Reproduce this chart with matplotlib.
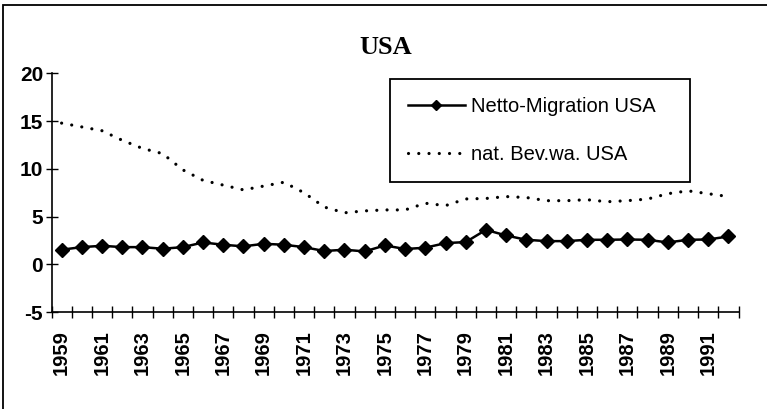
import matplotlib

matplotlib.use("Agg")

import matplotlib.pyplot as plt
import numpy as np
from matplotlib.patches import Rectangle

years = list(range(1959, 1993))

# Netto-Migration USA (per 1000)
netto_migration = [
    1.53, 1.8, 1.94, 1.8, 1.8, 1.63, 1.8, 2.29, 2.05, 1.88, 2.15, 2.05,
    1.8, 1.39, 1.53, 1.35, 1.98, 1.6, 1.74, 2.22, 2.33, 3.61, 3.02, 2.57,
    2.43, 2.43, 2.57, 2.57, 2.6, 2.57, 2.29, 2.57, 2.6, 2.92,
]

# natürliches Bevölkerungswachstum USA (per 1000)
nat_bev = [
    14.8, 14.4, 14.0, 13.0, 12.15, 11.6, 9.9, 8.8, 8.3, 7.8, 8.2, 8.6,
    7.5, 6.0, 5.4, 5.6, 5.7, 5.7, 6.4, 6.15, 6.85, 6.9, 7.1, 7.0,
    6.67, 6.67, 6.77, 6.56, 6.67, 6.84, 7.4, 7.7, 7.4, 7.1,
]

y_ticks = [-5, 0, 5, 10, 15, 20]

W, H = 767, 409
fig = plt.figure(figsize=(W / 100, H / 100), dpi=100)
ax = fig.add_axes([51.5 / W, 1 - 312 / H, 687 / W, 238.5 / H])

x = np.arange(len(years))
ax.plot(x, netto_migration, color="black", lw=1.8, marker="D", ms=7.5,
        label="Netto-Migration USA")
ax.plot(x, nat_bev, color="black", lw=2.3, linestyle=(0, (0.01, 3.2)),
        dash_capstyle="round", label="nat. Bev.wa. USA")

ax.set_xlim(-0.5, len(years) - 0.5)
ax.set_ylim(-5, 20)

for side in ["top", "right"]:
    ax.spines[side].set_visible(False)
for side in ["left", "bottom"]:
    ax.spines[side].set_linewidth(1.2)

ax.set_yticks(y_ticks)
ax.set_yticklabels([str(v) for v in y_ticks], fontsize=15, fontweight="bold",
                   family="Liberation Sans")
ax.tick_params(axis="y", direction="inout", length=8, width=1.0, pad=2)

label_idx = [i for i, yr in enumerate(years) if yr % 2 == 1]
ax.set_xticks(label_idx)
ax.set_xticklabels([str(years[i]) for i in label_idx], rotation=90,
                   fontsize=14.5, fontweight="bold", family="Liberation Sans")
ax.set_xticks(np.arange(-0.5, len(years), 1), minor=True)
ax.tick_params(axis="x", which="major", length=0, pad=13)
ax.tick_params(axis="x", which="minor", direction="inout", length=8, width=1.0)

leg = ax.legend(loc="upper left", bbox_to_anchor=(390 / W, 1 - 79 / H - 0.01, 300 / W, 0.01),
                bbox_transform=fig.transFigure, mode="expand", borderaxespad=0,
                fancybox=False, edgecolor="black", framealpha=1,
                prop={"family": "Liberation Sans", "size": 14.5},
                handlelength=2.8, handletextpad=0.3, labelspacing=1.45,
                borderpad=0.9, markerscale=0.7)
leg.get_frame().set_linewidth(1.3)

fig.text(0.503, 1 - 47 / H, "USA", ha="center", va="center", fontsize=19,
         fontweight="bold", family="Liberation Serif")

# outer chart frame (left and top edges visible)
fig.patches.append(Rectangle((3 / W, -0.5), 2, 1.5 - 5 / H, transform=fig.transFigure,
                             fill=False, lw=1.3, edgecolor="black"))

fig.savefig("out.png", dpi=100)
